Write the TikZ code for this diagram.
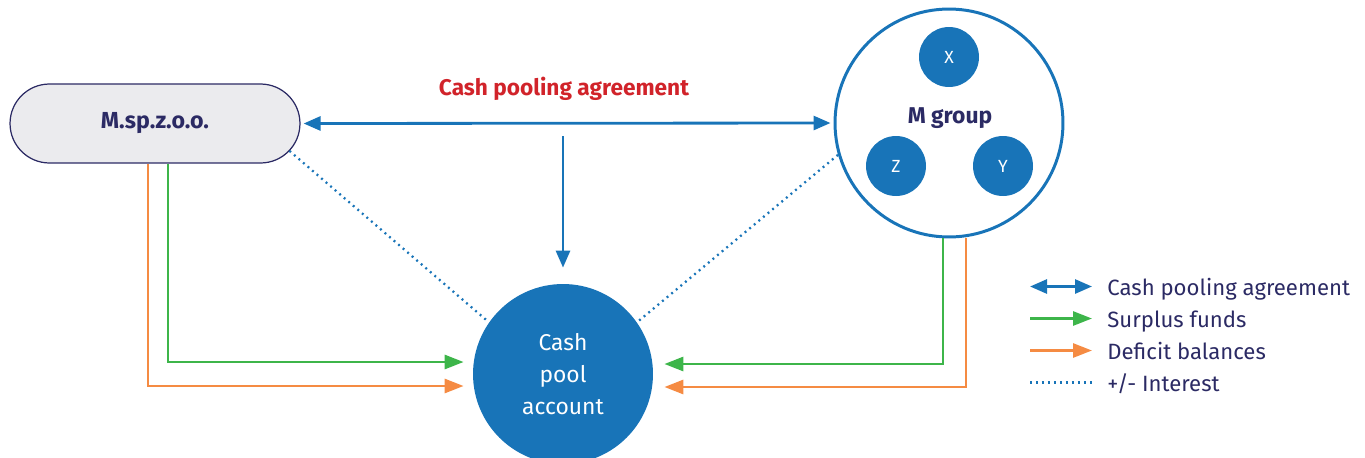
\documentclass[tikz,border=0pt]{standalone}
\usepackage{fontspec}
\setmainfont{Fira Sans}
\usetikzlibrary{arrows.meta}
\definecolor{poolblue}{HTML}{1874B8}
\definecolor{surplusgreen}{HTML}{3DB54A}
\definecolor{deficitorange}{HTML}{F58B43}
\definecolor{agreered}{HTML}{D1232A}
\definecolor{ink}{HTML}{2B2A64}
\definecolor{pillgray}{HTML}{EBEBEE}

\tikzset{
  agreement/.style={draw=poolblue, {Triangle[length=0.34cm,width=0.28cm]}-{Triangle[length=0.34cm,width=0.28cm]}},
  toaccount/.style={draw=poolblue, -{Triangle[length=0.34cm,width=0.28cm]}},
  surplus/.style={draw=surplusgreen, -{Triangle[length=0.38cm,width=0.28cm]}},
  deficit/.style={draw=deficitorange, -{Triangle[length=0.38cm,width=0.28cm]}},
  interest/.style={draw=poolblue, line width=1.3pt, dash pattern=on 1.1pt off 2.3pt},
  member/.style={circle, fill=poolblue, text=white, minimum size=1.2cm, font=\fontsize{10}{12}\selectfont},
  legtext/.style={anchor=base west, inner sep=0pt, text=ink, font=\fontsize{12.6}{14}\selectfont}
}

\begin{document}
\begin{tikzpicture}[x=0.02cm, y=-0.02cm, line width=1.6pt]
  \useasboundingbox (0,0) rectangle (1365,457);

  % parties and the pool
  \node[
    draw=ink,
    line width=0.7pt,
    fill=pillgray,
    rounded corners=0.79cm,
    minimum width=5.8cm,
    minimum height=1.58cm,
    text=ink,
    font=\fontsize{13.2}{15}\selectfont\bfseries
  ] (msp) at (155,123.5) {M.sp.z.o.o.};

  \node[circle, draw=poolblue, line width=1.7pt, minimum size=4.56cm] (mgrp) at (949,123) {};
  \node[text=ink, font=\fontsize{13}{15}\selectfont\bfseries] (mlabel) at (950,118) {M group};
  \node[member] (x) at (949,57) {X};
  \node[member] (z) at (896,166) {Z};
  \node[member] (y) at (1003,166) {Y};

  \node[
    circle,
    fill=poolblue,
    minimum size=3.6cm,
    text=white,
    align=center,
    font=\fontsize{13}{18}\selectfont
  ] (pool) at (563,374) {Cash\\pool\\account};

  \node[text=agreered, font=\fontsize{12.9}{15}\selectfont\bfseries] (title) at (564,89) {Cash pooling agreement};

  % agreement
  \coordinate (split) at (563,124);
  \draw[agreement, shorten <=0.06cm, shorten >=0.06cm] (msp.east) -- (mgrp.west);
  \draw[toaccount, shorten <=0.24cm, shorten >=0.3cm] (split) -- (pool.north);

  % interest
  \coordinate (mspcap) at ([xshift=-0.79cm]msp.east);
  \draw[interest] ([shift={(-44:0.79cm)}]mspcap) -- (pool.145);
  \draw[interest] (mgrp.196) -- (pool.35);

  % funds from M.sp.z.o.o.
  \draw[surplus, shorten >=0.16cm] ([xshift=0.26cm]msp.south) |- ([yshift=0.24cm]pool.west);
  \draw[deficit, shorten >=0.16cm] ([xshift=-0.14cm]msp.south) |- ([yshift=-0.24cm]pool.west);

  % funds from M group
  \draw[surplus, shorten >=0.2cm] ([xshift=-0.12cm]mgrp.south) |- ([yshift=0.2cm]pool.east);
  \draw[deficit, shorten >=0.2cm] ([xshift=0.34cm]mgrp.south) |- ([yshift=-0.26cm]pool.east);

  % legend
  \node[legtext] (leg1) at (1106,295) {Cash pooling agreement};
  \node[legtext] (leg2) at (1106,327) {Surplus funds};
  \node[legtext] (leg3) at (1106,359) {Deficit balances};
  \node[legtext] (leg4) at (1106,391) {+/- Interest};
  \draw[agreement] ([shift={(-1.52cm,0.17cm)}]leg1.base west) -- ([shift={(-0.28cm,0.17cm)}]leg1.base west);
  \draw[surplus] ([shift={(-1.52cm,0.17cm)}]leg2.base west) -- ([shift={(-0.28cm,0.17cm)}]leg2.base west);
  \draw[deficit] ([shift={(-1.52cm,0.17cm)}]leg3.base west) -- ([shift={(-0.28cm,0.17cm)}]leg3.base west);
  \draw[interest] ([shift={(-1.52cm,0.17cm)}]leg4.base west) -- ([shift={(-0.28cm,0.17cm)}]leg4.base west);
\end{tikzpicture}
\end{document}
